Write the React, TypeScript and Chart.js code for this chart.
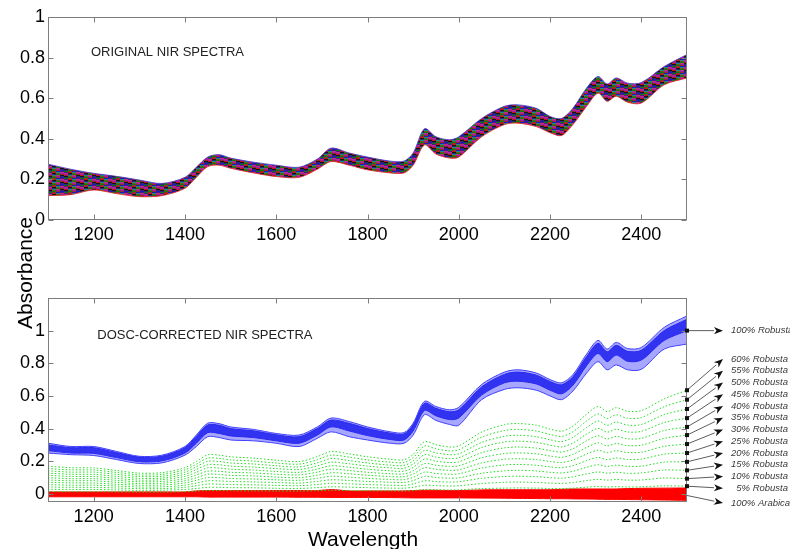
import React, { useEffect, useRef } from 'react';
import { Chart, registerables } from 'chart.js';

Chart.register(...registerables);
Chart.defaults.font.family = "'Liberation Sans', Arial, Helvetica, sans-serif";

// ---------- DATA ----------
const wavelengths = [1100, 1150, 1200, 1250, 1300, 1350, 1400, 1425, 1450, 1475, 1500, 1550, 1600, 1650, 1690, 1720, 1760, 1800, 1850, 1880, 1900, 1925, 1950, 1980, 2000, 2050, 2100, 2130, 2170, 2200, 2225, 2250, 2280, 2305, 2325, 2345, 2370, 2400, 2450, 2500];

const xTickValues = [1200, 1400, 1600, 1800, 2000, 2200, 2400];
const topYTicks = [0, 0.2, 0.4, 0.6, 0.8, 1];
const bottomYTicks = [0, 0.2, 0.4, 0.6, 0.8, 1];

// Original NIR spectra: upper / lower envelope of the band of sample spectra
const originalUpper = [0.275, 0.25, 0.23, 0.215, 0.197, 0.18, 0.21, 0.26, 0.31, 0.322, 0.305, 0.285, 0.27, 0.26, 0.30, 0.354, 0.33, 0.31, 0.29, 0.29, 0.33, 0.45, 0.41, 0.395, 0.41, 0.50, 0.56, 0.567, 0.55, 0.51, 0.50, 0.55, 0.65, 0.707, 0.67, 0.70, 0.674, 0.677, 0.756, 0.815];
const originalLower = [0.12, 0.125, 0.148, 0.13, 0.115, 0.12, 0.156, 0.21, 0.263, 0.27, 0.255, 0.232, 0.214, 0.21, 0.25, 0.288, 0.27, 0.247, 0.232, 0.232, 0.27, 0.37, 0.325, 0.305, 0.31, 0.41, 0.47, 0.477, 0.46, 0.43, 0.416, 0.47, 0.56, 0.625, 0.585, 0.61, 0.58, 0.576, 0.666, 0.70];

// DOSC-corrected: 100% Robusta band (outer envelope and dense core)
const robustaOuterUpper = [0.31, 0.29, 0.29, 0.26, 0.23, 0.237, 0.29, 0.36, 0.433, 0.43, 0.41, 0.395, 0.37, 0.36, 0.41, 0.464, 0.443, 0.41, 0.38, 0.375, 0.433, 0.567, 0.535, 0.515, 0.53, 0.67, 0.746, 0.76, 0.74, 0.70, 0.68, 0.73, 0.856, 0.94, 0.887, 0.928, 0.89, 0.897, 1.02, 1.09];
const robustaOuterLower = [0.25, 0.24, 0.235, 0.21, 0.186, 0.19, 0.237, 0.29, 0.35, 0.345, 0.33, 0.325, 0.31, 0.29, 0.34, 0.38, 0.35, 0.33, 0.31, 0.31, 0.36, 0.485, 0.45, 0.425, 0.42, 0.577, 0.64, 0.65, 0.635, 0.60, 0.577, 0.63, 0.74, 0.81, 0.76, 0.79, 0.76, 0.763, 0.887, 0.918];
const robustaCoreUpper = [0.30, 0.283, 0.283, 0.253, 0.225, 0.231, 0.283, 0.352, 0.422, 0.42, 0.40, 0.386, 0.362, 0.35, 0.40, 0.452, 0.432, 0.40, 0.372, 0.367, 0.423, 0.555, 0.524, 0.503, 0.515, 0.655, 0.732, 0.746, 0.727, 0.688, 0.668, 0.717, 0.84, 0.922, 0.87, 0.91, 0.873, 0.88, 1.0, 1.07];
const robustaCoreLower = [0.265, 0.25, 0.248, 0.222, 0.197, 0.202, 0.25, 0.31, 0.375, 0.37, 0.355, 0.345, 0.325, 0.31, 0.36, 0.41, 0.385, 0.357, 0.333, 0.33, 0.385, 0.51, 0.478, 0.455, 0.465, 0.605, 0.68, 0.69, 0.673, 0.635, 0.613, 0.665, 0.785, 0.86, 0.81, 0.85, 0.812, 0.82, 0.94, 1.0];

// Mixtures (dotted green)
const mixture60 = [0.170, 0.160, 0.159, 0.143, 0.127, 0.130, 0.160, 0.199, 0.239, 0.237, 0.227, 0.219, 0.206, 0.198, 0.228, 0.259, 0.245, 0.227, 0.212, 0.209, 0.242, 0.320, 0.301, 0.287, 0.294, 0.378, 0.424, 0.431, 0.420, 0.397, 0.384, 0.415, 0.488, 0.535, 0.504, 0.528, 0.506, 0.510, 0.582, 0.635];
const mixture55 = [0.155, 0.147, 0.146, 0.131, 0.116, 0.119, 0.147, 0.182, 0.219, 0.217, 0.208, 0.201, 0.189, 0.182, 0.209, 0.237, 0.225, 0.208, 0.194, 0.192, 0.222, 0.293, 0.276, 0.263, 0.270, 0.347, 0.388, 0.395, 0.385, 0.364, 0.352, 0.380, 0.447, 0.490, 0.462, 0.484, 0.463, 0.468, 0.534, 0.577];
const mixture50 = [0.141, 0.133, 0.133, 0.119, 0.106, 0.108, 0.133, 0.166, 0.199, 0.198, 0.189, 0.183, 0.172, 0.165, 0.190, 0.216, 0.204, 0.189, 0.176, 0.174, 0.202, 0.266, 0.251, 0.240, 0.245, 0.315, 0.353, 0.359, 0.350, 0.331, 0.320, 0.346, 0.406, 0.446, 0.420, 0.440, 0.421, 0.425, 0.485, 0.520];
const mixture45 = [0.127, 0.120, 0.119, 0.107, 0.095, 0.097, 0.120, 0.149, 0.179, 0.178, 0.170, 0.164, 0.155, 0.149, 0.171, 0.194, 0.184, 0.170, 0.159, 0.157, 0.182, 0.240, 0.225, 0.216, 0.221, 0.284, 0.318, 0.323, 0.315, 0.298, 0.288, 0.311, 0.366, 0.401, 0.378, 0.396, 0.379, 0.383, 0.437, 0.464];
const mixture40 = [0.113, 0.107, 0.106, 0.095, 0.084, 0.087, 0.107, 0.132, 0.159, 0.158, 0.151, 0.146, 0.137, 0.132, 0.152, 0.172, 0.163, 0.151, 0.141, 0.139, 0.162, 0.213, 0.200, 0.192, 0.196, 0.252, 0.282, 0.287, 0.280, 0.265, 0.256, 0.276, 0.325, 0.356, 0.336, 0.352, 0.337, 0.340, 0.388, 0.410];
const mixture35 = [0.099, 0.093, 0.093, 0.083, 0.074, 0.076, 0.093, 0.116, 0.139, 0.138, 0.132, 0.128, 0.120, 0.116, 0.133, 0.151, 0.143, 0.132, 0.123, 0.122, 0.141, 0.186, 0.175, 0.168, 0.172, 0.221, 0.247, 0.251, 0.245, 0.232, 0.224, 0.242, 0.284, 0.312, 0.294, 0.308, 0.295, 0.298, 0.340, 0.360];
const mixture30 = [0.085, 0.080, 0.080, 0.071, 0.063, 0.065, 0.080, 0.099, 0.120, 0.119, 0.113, 0.110, 0.103, 0.099, 0.114, 0.129, 0.123, 0.114, 0.106, 0.105, 0.121, 0.160, 0.150, 0.144, 0.147, 0.189, 0.212, 0.215, 0.210, 0.198, 0.192, 0.207, 0.244, 0.267, 0.252, 0.264, 0.253, 0.255, 0.291, 0.305];
const mixture25 = [0.071, 0.067, 0.066, 0.059, 0.053, 0.054, 0.067, 0.083, 0.100, 0.099, 0.094, 0.091, 0.086, 0.083, 0.095, 0.108, 0.102, 0.095, 0.088, 0.087, 0.101, 0.133, 0.125, 0.120, 0.123, 0.158, 0.177, 0.180, 0.175, 0.165, 0.160, 0.173, 0.203, 0.223, 0.210, 0.220, 0.211, 0.213, 0.243, 0.250];
const mixture20 = [0.057, 0.053, 0.053, 0.048, 0.042, 0.043, 0.053, 0.066, 0.080, 0.079, 0.076, 0.073, 0.069, 0.066, 0.076, 0.086, 0.082, 0.076, 0.071, 0.070, 0.081, 0.107, 0.100, 0.096, 0.098, 0.126, 0.141, 0.144, 0.140, 0.132, 0.128, 0.138, 0.163, 0.178, 0.168, 0.176, 0.169, 0.170, 0.194, 0.196];
const mixture15 = [0.042, 0.040, 0.040, 0.036, 0.032, 0.032, 0.040, 0.050, 0.060, 0.059, 0.057, 0.055, 0.052, 0.050, 0.057, 0.065, 0.061, 0.057, 0.053, 0.052, 0.061, 0.080, 0.075, 0.072, 0.074, 0.095, 0.106, 0.108, 0.105, 0.099, 0.096, 0.104, 0.122, 0.134, 0.126, 0.132, 0.126, 0.128, 0.146, 0.144];
const mixture10 = [0.028, 0.027, 0.027, 0.024, 0.021, 0.022, 0.027, 0.033, 0.040, 0.040, 0.038, 0.037, 0.034, 0.033, 0.038, 0.043, 0.041, 0.038, 0.035, 0.035, 0.040, 0.053, 0.050, 0.048, 0.049, 0.063, 0.071, 0.072, 0.070, 0.066, 0.064, 0.069, 0.081, 0.089, 0.084, 0.088, 0.084, 0.085, 0.097, 0.093];
const mixture05 = [0.014, 0.013, 0.013, 0.012, 0.011, 0.011, 0.013, 0.017, 0.020, 0.020, 0.019, 0.018, 0.017, 0.017, 0.019, 0.022, 0.020, 0.019, 0.018, 0.017, 0.020, 0.027, 0.025, 0.024, 0.025, 0.032, 0.035, 0.036, 0.035, 0.033, 0.032, 0.035, 0.041, 0.045, 0.042, 0.044, 0.042, 0.043, 0.049, 0.047];

const mixtureSeries = [mixture60, mixture55, mixture50, mixture45, mixture40, mixture35, mixture30, mixture25, mixture20, mixture15, mixture10, mixture05];
const mixtureLabels = ['60% Robusta', '55% Robusta', '50% Robusta', '45% Robusta', '40% Robusta', '35% Robusta', '30% Robusta', '25% Robusta', '20% Robusta', '15% Robusta', '10% Robusta', '  5% Robusta'];

// 100% Arabica band (red)
const arabicaUpper = [0.012, 0.012, 0.012, 0.012, 0.012, 0.012, 0.012, 0.018, 0.02, 0.02, 0.02, 0.02, 0.02, 0.02, 0.02, 0.026, 0.018, 0.018, 0.018, 0.018, 0.02, 0.022, 0.022, 0.02, 0.02, 0.024, 0.025, 0.025, 0.025, 0.025, 0.028, 0.03, 0.03, 0.03, 0.03, 0.03, 0.032, 0.034, 0.035, 0.036];
const arabicaLower = [-0.018, -0.018, -0.018, -0.018, -0.018, -0.018, -0.018, -0.018, -0.02, -0.02, -0.02, -0.02, -0.02, -0.021, -0.021, -0.022, -0.022, -0.022, -0.023, -0.024, -0.025, -0.025, -0.025, -0.025, -0.025, -0.026, -0.027, -0.028, -0.029, -0.03, -0.03, -0.031, -0.032, -0.033, -0.034, -0.034, -0.035, -0.036, -0.038, -0.04];

const robusta100Anchor = 1.0;
const arabicaAnchor = -0.01;

const topCaption = 'ORIGINAL NIR SPECTRA';
const bottomCaption = 'DOSC-CORRECTED NIR SPECTRA';

// ---------- helpers ----------
const pts = (arr: number[]) => wavelengths.map((w, i) => ({ x: w, y: arr[i] }));

function makeSpectraPattern(ctx: CanvasRenderingContext2D) {
  const c = document.createElement('canvas');
  c.width = 16;
  c.height = 7;
  const g = c.getContext('2d')!;
  const palette = ['#c01818', '#1c1cb8', '#107a10', '#a818a8', '#141414', '#148c8c', '#4a1a8a', '#9a2a2a', '#2a2a70', '#606010', '#c03080'];
  const rowStart = [0, 4, 8, 2, 6, 10, 3];
  for (let y = 0; y < c.height; y++) {
    for (let x = 0; x < c.width; x++) {
      g.fillStyle = palette[(rowStart[y] + Math.floor(x / 4) * 5) % palette.length];
      g.fillRect(x, y, 1, 1);
    }
  }
  return ctx.createPattern(c, 'repeat')!;
}

const boxPlugin = {
  id: 'matlabBox',
  afterDraw(chart: any) {
    const { ctx, chartArea: a, scales } = chart;
    ctx.save();
    ctx.strokeStyle = '#7d7d7d';
    ctx.lineWidth = 1;
    const L = Math.round(a.left) + 0.5, R = Math.round(a.right) - 0.5;
    const T = Math.round(a.top) + 0.5, B = Math.round(a.bottom) - 0.5;
    ctx.strokeRect(L, T, R - L, B - T);
    const tl = 5;
    ctx.beginPath();
    scales.x.ticks.forEach((t: any) => {
      const px = Math.round(scales.x.getPixelForValue(t.value)) + 0.5;
      ctx.moveTo(px, B); ctx.lineTo(px, B - tl);
      ctx.moveTo(px, T); ctx.lineTo(px, T + tl);
    });
    scales.y.ticks.forEach((t: any) => {
      const py = Math.round(scales.y.getPixelForValue(t.value)) + 0.5;
      ctx.moveTo(L, py); ctx.lineTo(L + tl, py);
      ctx.moveTo(R, py); ctx.lineTo(R - tl, py);
    });
    ctx.stroke();
    ctx.restore();
  },
};

function scalesFor(yMin: number, yMax: number, yTicks: number[], xAxisHeight: number) {
  return {
    x: {
      type: 'linear',
      min: 1100,
      max: 2500,
      grid: { display: false, drawTicks: false },
      border: { display: false },
      ticks: { font: { size: 18 }, color: '#000', padding: 4, maxRotation: 0, autoSkip: false, callback: (v: any) => String(v) },
      afterBuildTicks: (s: any) => { s.ticks = xTickValues.map((v) => ({ value: v })); },
      afterFit: (s: any) => { s.height = xAxisHeight; },
    },
    y: {
      type: 'linear',
      min: yMin,
      max: yMax,
      grid: { display: false, drawTicks: false },
      border: { display: false },
      ticks: { font: { size: 18 }, color: '#000', padding: 3, callback: (v: any) => String(v) },
      afterBuildTicks: (s: any) => { s.ticks = yTicks.map((v) => ({ value: v })); },
      afterFit: (s: any) => { s.width = 48; },
    },
  };
}

function drawArrow(ctx: CanvasRenderingContext2D, sx: number, sy: number, tx: number, ty: number) {
  const ang = Math.atan2(ty - sy, tx - sx);
  const hl = 9, hw = 3.6;
  const bx = tx - hl * Math.cos(ang), by = ty - hl * Math.sin(ang);
  ctx.beginPath();
  ctx.moveTo(sx, sy);
  ctx.lineTo(bx, by);
  ctx.stroke();
  ctx.beginPath();
  ctx.moveTo(tx, ty);
  ctx.lineTo(bx + hw * Math.sin(ang), by - hw * Math.cos(ang));
  ctx.lineTo(bx + 2.5 * Math.cos(ang), by + 2.5 * Math.sin(ang));
  ctx.lineTo(bx - hw * Math.sin(ang), by + hw * Math.cos(ang));
  ctx.closePath();
  ctx.fill();
}

const lineBase = { pointRadius: 0, tension: 0.3 };

export default function App() {
  const topRef = useRef<HTMLCanvasElement>(null);
  const botRef = useRef<HTMLCanvasElement>(null);

  useEffect(() => {
    const topCtx = topRef.current!.getContext('2d')!;
    const pattern = makeSpectraPattern(topCtx);

    const topCaptionPlugin = {
      id: 'topCaption',
      afterDraw(chart: any) {
        const { ctx, scales } = chart;
        ctx.save();
        ctx.font = "13px 'Liberation Sans', Arial, sans-serif";
        ctx.fillStyle = '#222';
        ctx.textAlign = 'left';
        ctx.textBaseline = 'middle';
        ctx.fillText(topCaption, scales.x.getPixelForValue(1194), scales.y.getPixelForValue(0.825));
        ctx.restore();
      },
    };

    const topChart = new Chart(topRef.current!, {
      type: 'line',
      data: {
        datasets: [
          { label: 'Original upper', data: pts(originalUpper), borderColor: 'rgba(70,50,200,0.8)', borderWidth: 1, fill: false, ...lineBase },
          { label: 'Original lower', data: pts(originalLower), borderColor: 'rgba(230,40,40,0.85)', borderWidth: 1, fill: '-1', backgroundColor: pattern, ...lineBase },
        ],
      },
      options: {
        responsive: false,
        animation: false,
        events: [],
        layout: { padding: { left: 0, right: 103, top: 17, bottom: 300 } },
        plugins: { legend: { display: false }, tooltip: { enabled: false } },
        scales: scalesFor(0, 1, topYTicks, 29) as any,
      },
      plugins: [boxPlugin, topCaptionPlugin],
    } as any);

    const greenDatasets = mixtureSeries.map((s, i) => ({
      label: mixtureLabels[i].trim(),
      data: pts(s),
      borderColor: '#22dd22',
      borderWidth: 1,
      borderDash: [1.5, 2],
      fill: false,
      ...lineBase,
    }));

    const annotationPlugin = {
      id: 'annotations',
      afterDraw(chart: any) {
        const { ctx, scales, chartArea: a } = chart;
        ctx.save();
        ctx.font = "13px 'Liberation Sans', Arial, sans-serif";
        ctx.fillStyle = '#222';
        ctx.textAlign = 'left';
        ctx.textBaseline = 'middle';
        ctx.fillText(bottomCaption, scales.x.getPixelForValue(1208), scales.y.getPixelForValue(0.973));
        ctx.fillStyle = '#000';
        ctx.font = "21px 'Liberation Sans', Arial, sans-serif";
        ctx.textAlign = 'center';
        ctx.textBaseline = 'alphabetic';
        ctx.fillText('Wavelength', 363, 546);
        ctx.save();
        ctx.translate(32, 273);
        ctx.rotate(-Math.PI / 2);
        ctx.fillText('Absorbance', 0, 0);
        ctx.restore();
        const ex = a.right;
        const tipX = 723;
        const labelX = 731;
        ctx.strokeStyle = '#333';
        ctx.fillStyle = '#111';
        ctx.lineWidth = 0.8;
        const items: { v: number; ly: number; text: string }[] = [];
        items.push({ v: robusta100Anchor, ly: scales.y.getPixelForValue(robusta100Anchor), text: '100% Robusta' });
        mixtureSeries.forEach((s, i) => items.push({ v: s[s.length - 1], ly: 359 + i * 11.75, text: mixtureLabels[i] }));
        items.push({ v: arabicaAnchor, ly: 503, text: '100% Arabica' });
        items.forEach((it, idx) => {
          const sy = scales.y.getPixelForValue(it.v);
          drawArrow(ctx, ex, sy, tipX, it.ly);
          if (idx < items.length - 1) ctx.fillRect(ex - 2, sy - 2, 4, 4);
        });
        ctx.fillStyle = '#3a3a3a';
        ctx.font = "italic 9.5px 'Liberation Sans', Arial, sans-serif";
        ctx.textAlign = 'left';
        ctx.textBaseline = 'middle';
        items.forEach((it) => ctx.fillText(it.text, labelX, it.ly));
        ctx.restore();
      },
    };

    const botChart = new Chart(botRef.current!, {
      type: 'line',
      data: {
        datasets: [
          { label: 'Robusta outer upper', data: pts(robustaOuterUpper), borderColor: '#4040ff', borderWidth: 1, fill: false, ...lineBase },
          { label: 'Robusta outer lower', data: pts(robustaOuterLower), borderColor: '#4040ff', borderWidth: 1, fill: '-1', backgroundColor: 'rgba(80,80,255,0.5)', ...lineBase },
          { label: 'Robusta core upper', data: pts(robustaCoreUpper), borderColor: '#0000e0', borderWidth: 1, fill: false, ...lineBase },
          { label: 'Robusta core lower', data: pts(robustaCoreLower), borderColor: '#0000e0', borderWidth: 1, fill: '-1', backgroundColor: 'rgba(0,0,225,0.92)', ...lineBase },
          ...greenDatasets,
          { label: 'Arabica upper', data: pts(arabicaUpper), borderColor: '#ff0000', borderWidth: 1, fill: false, ...lineBase },
          { label: 'Arabica lower', data: pts(arabicaLower), borderColor: '#ff0000', borderWidth: 1, fill: '-1', backgroundColor: '#ff0000', ...lineBase },
        ],
      },
      options: {
        responsive: false,
        animation: false,
        events: [],
        layout: { padding: { left: 0, right: 103, top: 298, bottom: 0 } },
        plugins: { legend: { display: false }, tooltip: { enabled: false } },
        scales: scalesFor(-0.05, 1.2, bottomYTicks, 47) as any,
      },
      plugins: [boxPlugin, annotationPlugin],
    } as any);

    return () => {
      topChart.destroy();
      botChart.destroy();
    };
  }, []);

  return (
    <div style={{ position: 'absolute', left: 0, top: 0, width: 790, height: 549, background: '#fff', overflow: 'hidden' }}>
      <canvas ref={topRef} width={790} height={549} style={{ position: 'absolute', left: 0, top: 0 }} />
      <canvas ref={botRef} width={790} height={549} style={{ position: 'absolute', left: 0, top: 0 }} />
    </div>
  );
}
